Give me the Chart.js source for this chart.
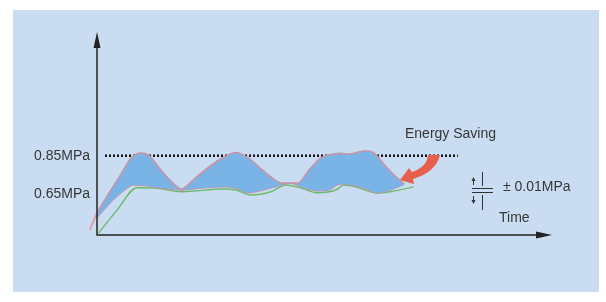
<!DOCTYPE html>
<html>
<head>
<meta charset="utf-8">
<script src="https://cdn.jsdelivr.net/npm/chart.js@4.4.0/dist/chart.umd.min.js"></script>
<style>
  html, body { margin: 0; padding: 0; background: #ffffff; }
  canvas { display: block; }
</style>
</head>
<body>
<canvas id="pressureChart" width="606" height="302"></canvas>
<script>
// time axis runs 0..100 (arbitrary units), pressure in MPa
var upperTime = [0, 2.4, 5.05, 7.5, 9.7, 11.4, 13.5, 16.0, 18.6, 21.1, 24.6, 27.9, 30.5, 33.0, 35.6, 38.2, 40.7, 44.1, 46.6, 49.2, 50.9, 53.4, 55.6, 58.9, 60.7, 63.6, 65.3, 67.5];
var upperPressure = [0.553, 0.645, 0.745, 0.838, 0.864, 0.852, 0.791, 0.723, 0.676, 0.723, 0.791, 0.843, 0.867, 0.843, 0.791, 0.739, 0.707, 0.707, 0.775, 0.838, 0.854, 0.862, 0.859, 0.876, 0.867, 0.791, 0.749, 0.703];

var tailTime = [-1.6, 0];
var tailPressure = [0.462, 0.553];

var lowerTime = [0, 3.3, 5.9, 7.9, 10.1, 14.3, 18.6, 22.9, 27.9, 30.5, 33.0, 36.5, 39.8, 42.4, 44.9, 48.4, 50.9, 53.4, 56.0, 58.5, 61.5, 64.4, 67.5];
var lowerPressure = [0.527, 0.615, 0.668, 0.697, 0.694, 0.681, 0.671, 0.681, 0.688, 0.681, 0.657, 0.671, 0.692, 0.707, 0.688, 0.667, 0.671, 0.702, 0.697, 0.681, 0.657, 0.671, 0.700];

var greenTime = [0.35, 4.4, 8.8, 12.7, 18.6, 27.9, 30.5, 33.8, 38.2, 41.5, 44.9, 48.4, 52.5, 54.3, 56.8, 61.5, 64.4, 69.6];
var greenPressure = [0.446, 0.566, 0.683, 0.681, 0.662, 0.676, 0.671, 0.645, 0.662, 0.697, 0.681, 0.657, 0.671, 0.697, 0.688, 0.655, 0.662, 0.687];

var limitTime = [1.76, 79.3];
var limitPressure = [0.85, 0.85];

var yTickValues = [0.65, 0.85];
var yTickLabels = ['0.65MPa', '0.85MPa'];

var textFont = '14px "Liberation Sans", Arial, sans-serif';
var textColor = '#363636';

function pairs(xs, ys) {
    return xs.map(function (x, i) { return { x: x, y: ys[i] }; });
}

// light blue panel behind everything
var panelPlugin = {
    id: 'panel',
    beforeDraw: function (chart) {
        var ctx = chart.ctx;
        ctx.save();
        ctx.fillStyle = '#c9dcf1';
        ctx.fillRect(13, 10, 586, 282);
        ctx.restore();
    }
};

// axis arrows, red arrow, tolerance mark and labels
var decorPlugin = {
    id: 'decor',
    afterDatasetsDraw: function (chart) {
        var ctx = chart.ctx;
        var a = chart.chartArea;
        ctx.save();

        // axes
        ctx.strokeStyle = '#222';
        ctx.fillStyle = '#222';
        ctx.lineWidth = 1.5;
        ctx.beginPath();
        ctx.moveTo(a.left, a.top + 10);
        ctx.lineTo(a.left, a.bottom);
        ctx.lineTo(a.right - 10, a.bottom);
        ctx.stroke();
        ctx.beginPath();
        ctx.moveTo(a.left, a.top);
        ctx.lineTo(a.left - 3.5, a.top + 16);
        ctx.lineTo(a.left + 3.5, a.top + 16);
        ctx.closePath();
        ctx.fill();
        ctx.beginPath();
        ctx.moveTo(a.right, a.bottom);
        ctx.lineTo(a.right - 16, a.bottom - 3.5);
        ctx.lineTo(a.right - 16, a.bottom + 3.5);
        ctx.closePath();
        ctx.fill();

        // red "energy saving" arrow, tapered body + head
        ctx.fillStyle = '#e8604c';
        ctx.beginPath();
        ctx.moveTo(428, 155);
        ctx.quadraticCurveTo(427, 167, 412, 172);
        ctx.lineTo(409, 168);
        ctx.lineTo(400, 180);
        ctx.lineTo(414, 184);
        ctx.lineTo(413, 179);
        ctx.quadraticCurveTo(436, 172, 440, 155);
        ctx.closePath();
        ctx.fill();

        // tolerance mark
        ctx.strokeStyle = '#333';
        ctx.fillStyle = '#333';
        ctx.lineWidth = 1;
        ctx.beginPath();
        ctx.moveTo(472, 188.5); ctx.lineTo(493, 188.5);
        ctx.moveTo(472, 192.5); ctx.lineTo(493, 192.5);
        ctx.moveTo(482.5, 172); ctx.lineTo(482.5, 186);
        ctx.moveTo(482.5, 195); ctx.lineTo(482.5, 210);
        ctx.moveTo(473.5, 180); ctx.lineTo(473.5, 185);
        ctx.moveTo(473.5, 196); ctx.lineTo(473.5, 201);
        ctx.stroke();
        ctx.beginPath();
        ctx.moveTo(473.5, 177); ctx.lineTo(471.5, 181); ctx.lineTo(475.5, 181); ctx.closePath();
        ctx.moveTo(473.5, 204); ctx.lineTo(471.5, 200); ctx.lineTo(475.5, 200); ctx.closePath();
        ctx.fill();

        // labels
        ctx.font = textFont;
        ctx.fillStyle = textColor;
        ctx.textAlign = 'left';
        ctx.textBaseline = 'middle';
        ctx.fillText('Energy Saving', 405, 134);
        ctx.fillText('\u00b1 0.01MPa', 503, 187);
        ctx.fillText('Time', 499, 218);

        ctx.restore();
    }
};

var lineColor = '#c595a6';

var ctx = document.getElementById('pressureChart').getContext('2d');
var pressureChart = new Chart(ctx, {
    type: 'line',
    data: {
        datasets: [{
            label: 'Conventional',
            data: pairs(upperTime, upperPressure),
            borderColor: lineColor,
            borderWidth: 1.6,
            backgroundColor: '#7ab4e6',
            fill: '+1',
            cubicInterpolationMode: 'monotone',
            pointRadius: 0
        }, {
            label: 'Saving',
            data: pairs(lowerTime, lowerPressure),
            borderColor: lineColor,
            borderWidth: 1.4,
            fill: false,
            cubicInterpolationMode: 'monotone',
            pointRadius: 0
        }, {
            label: 'Tail',
            data: pairs(tailTime, tailPressure),
            borderColor: '#e09aa0',
            borderWidth: 1.8,
            fill: false,
            tension: 0,
            pointRadius: 0,
            clip: false
        }, {
            label: 'Actual',
            data: pairs(greenTime, greenPressure),
            borderColor: '#6dbb6a',
            borderWidth: 1.4,
            fill: false,
            cubicInterpolationMode: 'monotone',
            pointRadius: 0
        }, {
            label: 'Limit',
            data: pairs(limitTime, limitPressure),
            borderColor: '#111',
            borderWidth: 2.5,
            borderDash: [2, 2],
            fill: false,
            tension: 0,
            pointRadius: 0
        }]
    },
    options: {
        responsive: false,
        animation: false,
        devicePixelRatio: 1,
        layout: { padding: { left: 0, right: 54, top: 32, bottom: 67 } },
        plugins: {
            legend: { display: false },
            tooltip: { enabled: false }
        },
        scales: {
            x: {
                type: 'linear',
                min: 0,
                max: 100,
                display: false
            },
            y: {
                type: 'linear',
                min: 0.436,
                max: 1.496,
                grid: { display: false, drawTicks: false },
                border: { display: false },
                afterFit: function (scale) { scale.width = 97; },
                afterBuildTicks: function (scale) {
                    scale.ticks = yTickValues.map(function (v) { return { value: v }; });
                },
                ticks: {
                    padding: 7,
                    color: textColor,
                    font: { family: '"Liberation Sans", Arial, sans-serif', size: 14 },
                    callback: function (value) {
                        var i = yTickValues.indexOf(value);
                        return i >= 0 ? yTickLabels[i] : '';
                    }
                }
            }
        }
    },
    plugins: [panelPlugin, decorPlugin]
});
</script>
</body>
</html>
